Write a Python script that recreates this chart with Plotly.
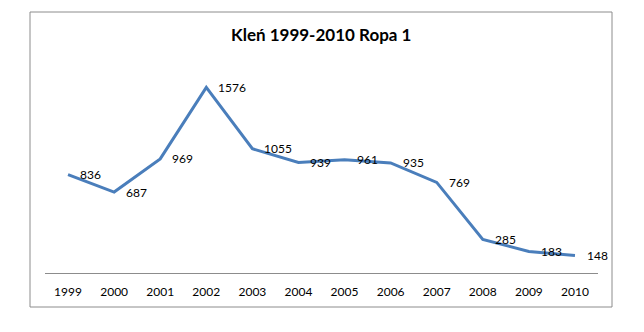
import plotly.graph_objects as go

# Yearly counts for Kleń, Ropa 1
years = ["1999", "2000", "2001", "2002", "2003", "2004",
         "2005", "2006", "2007", "2008", "2009", "2010"]
counts = [836, 687, 969, 1576, 1055, 939, 961, 935, 769, 285, 183, 148]
title_text = "Kleń 1999-2010 Ropa 1"

line_color = "#4A7EBB"
font_family = "Lato, 'Open Sans', sans-serif"

W, H = 644, 332
ML, MR, MT, MB = 45, 46, 61, 59
PW, PH = W - ML - MR, H - MT - MB


def px_to_paper(px, py):
    """Convert a pixel position (top-left origin) into plot-paper coordinates."""
    return (px - ML) / PW, (H - MB - py) / PH


fig = go.Figure()
fig.add_trace(go.Scatter(
    x=years, y=counts, mode="lines",
    line=dict(color=line_color, width=3),
    hoverinfo="skip", showlegend=False,
))

# Value labels placed to the right of each point (x given as category index)
for i, v in enumerate(counts):
    fig.add_annotation(
        x=i, y=v, text=str(v), showarrow=False,
        xanchor="left", yanchor="middle", xshift=10,
        font=dict(family=font_family, size=12, color="#000000"),
    )

# Chart title
tx, ty = px_to_paper(321, 35)
fig.add_annotation(
    x=tx, y=ty, xref="paper", yref="paper", text=f"<b>{title_text}</b>",
    showarrow=False, xanchor="center", yanchor="middle",
    font=dict(family=font_family, size=17, color="#000000"),
)

# Outer chart border
bx0, by0 = px_to_paper(30, 307)
bx1, by1 = px_to_paper(612, 12)
fig.add_shape(
    type="rect", xref="paper", yref="paper",
    x0=bx0, x1=bx1, y0=by0, y1=by1, line=dict(color="#8C8C8C", width=1),
    fillcolor="rgba(0,0,0,0)", layer="below",
)

fig.update_layout(
    width=W, height=H,
    margin=dict(l=ML, r=MR, t=MT, b=MB),
    paper_bgcolor="white", plot_bgcolor="white",
    xaxis=dict(
        type="category", range=[-0.5, len(years) - 0.5],
        showgrid=False, zeroline=False,
        showline=True, linecolor="#8C8C8C", linewidth=1,
        ticks="", tickfont=dict(family=font_family, size=12, color="#000000"),
        ticklabelstandoff=8, fixedrange=True,
    ),
    yaxis=dict(range=[0, 1800], visible=False, showgrid=False,
               zeroline=False, fixedrange=True),
)

fig.write_html("out.html")
